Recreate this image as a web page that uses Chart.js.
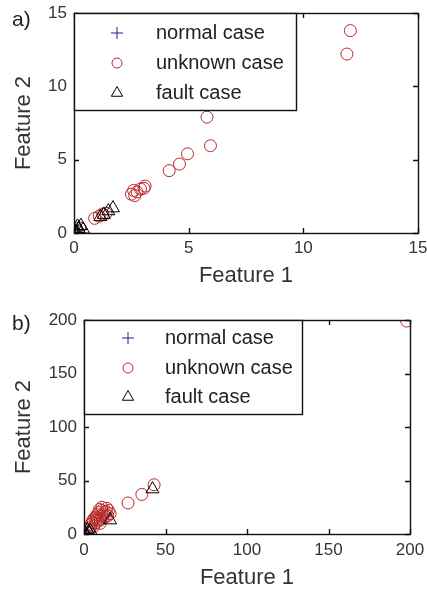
<!DOCTYPE html>
<html>
<head>
<meta charset="utf-8">
<script src="https://cdn.jsdelivr.net/npm/chart.js@4/dist/chart.umd.min.js"></script>
<style>
    body { margin: 0; width: 427px; height: 589px; overflow: hidden; background: #fff; position: relative; }
    canvas { position: absolute; left: 0; }
    .tag { position: absolute; left: 12px; font: 21px "Liberation Sans", Arial, sans-serif; line-height: 21px; color: #222; z-index: 2; }
</style>
</head>
<body>
<div class="tag" style="top:8px">a)</div>
<div class="tag" style="top:312px">b)</div>
<canvas id="chartA" width="427" height="295" style="top:0"></canvas>
<canvas id="chartB" width="427" height="294" style="top:295px"></canvas>
<script>
// tick values
const ticksA = [0, 5, 10, 15];
const ticksB = [0, 50, 100, 150, 200];
const seriesNames = ['normal case', 'unknown case', 'fault case'];

// panel a)
const normalA_x = [0.02, 0.05, 0.03];
const normalA_y = [0.03, 0.01, 0.06];
const unknownA_x = [12.05, 11.9, 5.8, 5.95, 4.95, 4.6, 4.15, 2.5, 2.6, 2.75, 2.9, 3.1, 3.05, 2.65, 0.9, 1.1, 1.25, 1.4, 0.25, 0.1];
const unknownA_y = [13.8, 12.2, 7.9, 5.95, 5.4, 4.7, 4.25, 2.65, 2.9, 2.8, 3.0, 3.2, 3.05, 2.55, 1.0, 1.15, 1.3, 1.35, 0.35, 0.15];
const faultA_x = [1.7, 1.5, 1.3, 1.15, 0.3, 0.2, 0.1, 0.05, 0.25, 0.0, 0.4, 0.15];
const faultA_y = [1.7, 1.5, 1.25, 1.1, 0.5, 0.3, 0.1, 0.05, 0.15, 0.2, 0.25, 0.45];

// panel b)
const normalB_x = [0.5, 1.5, 1.0];
const normalB_y = [0.5, 1.0, 2.0];
const unknownB_x = [198, 27, 35.5, 43, 14, 11, 8, 5.5, 4.5, 10, 16, 13, 6, 9, 12, 7, 3, 15, 11.5, 8.5, 13.5, 6.5, 10.5, 4, 9.5, 12.5, 7.5, 14.5, 5, 10, 8, 11];
const unknownB_y = [199, 29, 37, 46, 24, 22, 18, 13, 9, 13, 19, 16, 7, 20, 18, 10, 4, 22, 15, 12, 21, 15, 17, 6, 23, 20, 16, 17, 11, 10, 14, 25];
const faultB_x = [42, 16, 0.5, 2, 1, 3, 4];
const faultB_y = [42, 13, 1, 4, 0.5, 2, 3];

// MATLAB "+", "o", "^" markers
const markers = [
    { pointStyle: 'cross', color: '#1f1f9e', radius: 6 },
    { pointStyle: 'circle', color: '#b8292b', radius: 6 },
    { pointStyle: 'triangle', color: '#000000', radius: 7.5 }
];

const FONT = '"Liberation Sans", Arial, sans-serif';

function pts(xs, ys) {
    return xs.map((x, i) => ({ x: x, y: ys[i] }));
}

function drawMarker(ctx, style, r, x, y) {
    ctx.beginPath();
    if (style === 'circle') {
        ctx.arc(x, y, r, 0, Math.PI * 2);
    } else if (style === 'triangle') {
        ctx.moveTo(x, y - r);
        ctx.lineTo(x + r * 0.866, y + r * 0.5);
        ctx.lineTo(x - r * 0.866, y + r * 0.5);
        ctx.closePath();
    } else {
        ctx.moveTo(x - r, y); ctx.lineTo(x + r, y);
        ctx.moveTo(x, y - r); ctx.lineTo(x, y + r);
    }
    ctx.stroke();
}

// axes box, inward ticks on four sides, legend box
const matlabFrame = {
    id: 'matlabFrame',
    afterDatasetsDraw(chart, args, opts) {
        const ctx = chart.ctx;
        const a = chart.chartArea;
        const xs = chart.scales.x, ys = chart.scales.y;
        ctx.save();
        ctx.strokeStyle = '#111';
        ctx.lineWidth = 1.4;
        ctx.strokeRect(a.left + 0.5, a.top + 0.5, a.right - a.left, a.bottom - a.top);
        ctx.beginPath();
        xs.ticks.forEach(t => {
            const p = Math.round(xs.getPixelForValue(t.value)) + 0.5;
            ctx.moveTo(p, a.bottom); ctx.lineTo(p, a.bottom - 5);
            ctx.moveTo(p, a.top); ctx.lineTo(p, a.top + 5);
        });
        ys.ticks.forEach(t => {
            const p = Math.round(ys.getPixelForValue(t.value)) + 0.5;
            ctx.moveTo(a.left, p); ctx.lineTo(a.left + 5, p);
            ctx.moveTo(a.right, p); ctx.lineTo(a.right - 5, p);
        });
        ctx.stroke();

        // legend
        const L = opts;
        const bx = a.left + 0.5, by = a.top + 0.5;
        ctx.fillStyle = '#fff';
        ctx.fillRect(bx, by, L.width, L.height);
        ctx.strokeRect(bx, by, L.width, L.height);
        ctx.font = '20px ' + FONT;
        ctx.textBaseline = 'middle';
        chart.data.datasets.forEach((ds, i) => {
            const y = a.top + L.rows[i];
            ctx.strokeStyle = ds.borderColor;
            ctx.lineWidth = 1;
            drawMarker(ctx, markers[i].pointStyle, L.marker[i], a.left + L.markerX, y);
            ctx.fillStyle = '#222';
            ctx.fillText(ds.label, a.left + L.textX, y);
        });
        ctx.restore();
    }
};

function makeChart(id, sets, ticks, lay) {
    const datasets = sets.map((s, i) => ({
        label: seriesNames[i],
        data: s,
        showLine: false,
        pointStyle: markers[i].pointStyle,
        pointRadius: markers[i].radius,
        pointHoverRadius: markers[i].radius,
        pointBorderWidth: 1,
        borderColor: markers[i].color,
        backgroundColor: 'rgba(0,0,0,0)',
        order: 2 - i
    }));
    const axis = (fit, title, titlePad) => ({
        type: 'linear',
        min: ticks[0],
        max: ticks[ticks.length - 1],
        afterBuildTicks: sc => { sc.ticks = ticks.map(v => ({ value: v })); },
        afterFit: sc => {
            fit(sc);
            sc.paddingTop = 0; sc.paddingBottom = 0;
            sc.paddingLeft = 0; sc.paddingRight = 0;
        },
        grid: { display: false, drawTicks: false },
        border: { display: false },
        ticks: { color: '#333', font: { family: FONT, size: 17 }, padding: 0 },
        title: { display: true, text: title, color: '#333', font: { family: FONT, size: 22, lineHeight: 1 }, padding: titlePad }
    });
    const xAxis = axis(sc => { sc.height = lay.xh; }, 'Feature 1', { top: 0, bottom: lay.xtp });
    xAxis.ticks.padding = lay.xpad;
    const yAxis = axis(sc => { sc.width = lay.yw; }, 'Feature 2', { top: 13, bottom: 0 });
    yAxis.ticks.padding = 7;
    return new Chart(document.getElementById(id), {
        type: 'scatter',
        data: { datasets: datasets },
        options: {
            responsive: false,
            animation: false,
            devicePixelRatio: 1,
            layout: { padding: { left: 0, top: lay.top, right: lay.right, bottom: 0 } },
            scales: { x: xAxis, y: yAxis },
            plugins: {
                legend: { display: false },
                tooltip: { enabled: false },
                matlabFrame: lay.legend
            }
        },
        plugins: [matlabFrame]
    });
}

makeChart('chartA',
    [pts(normalA_x, normalA_y), pts(unknownA_x, unknownA_y), pts(faultA_x, faultA_y)],
    ticksA,
    { top: 13, right: 9, yw: 74, xh: 62, xpad: 5, xtp: 8,
      legend: { width: 222, height: 97, markerX: 43, textX: 82, rows: [20, 50, 80], marker: [6, 5, 6.5] } });

makeChart('chartB',
    [pts(normalB_x, normalB_y), pts(unknownB_x, unknownB_y), pts(faultB_x, faultB_y)],
    ticksB,
    { top: 25, right: 17, yw: 84, xh: 55, xpad: 6, xtp: 0,
      legend: { width: 218, height: 94, markerX: 44, textX: 81, rows: [18, 48, 77], marker: [6, 5, 6.5] } });
</script>
</body>
</html>
